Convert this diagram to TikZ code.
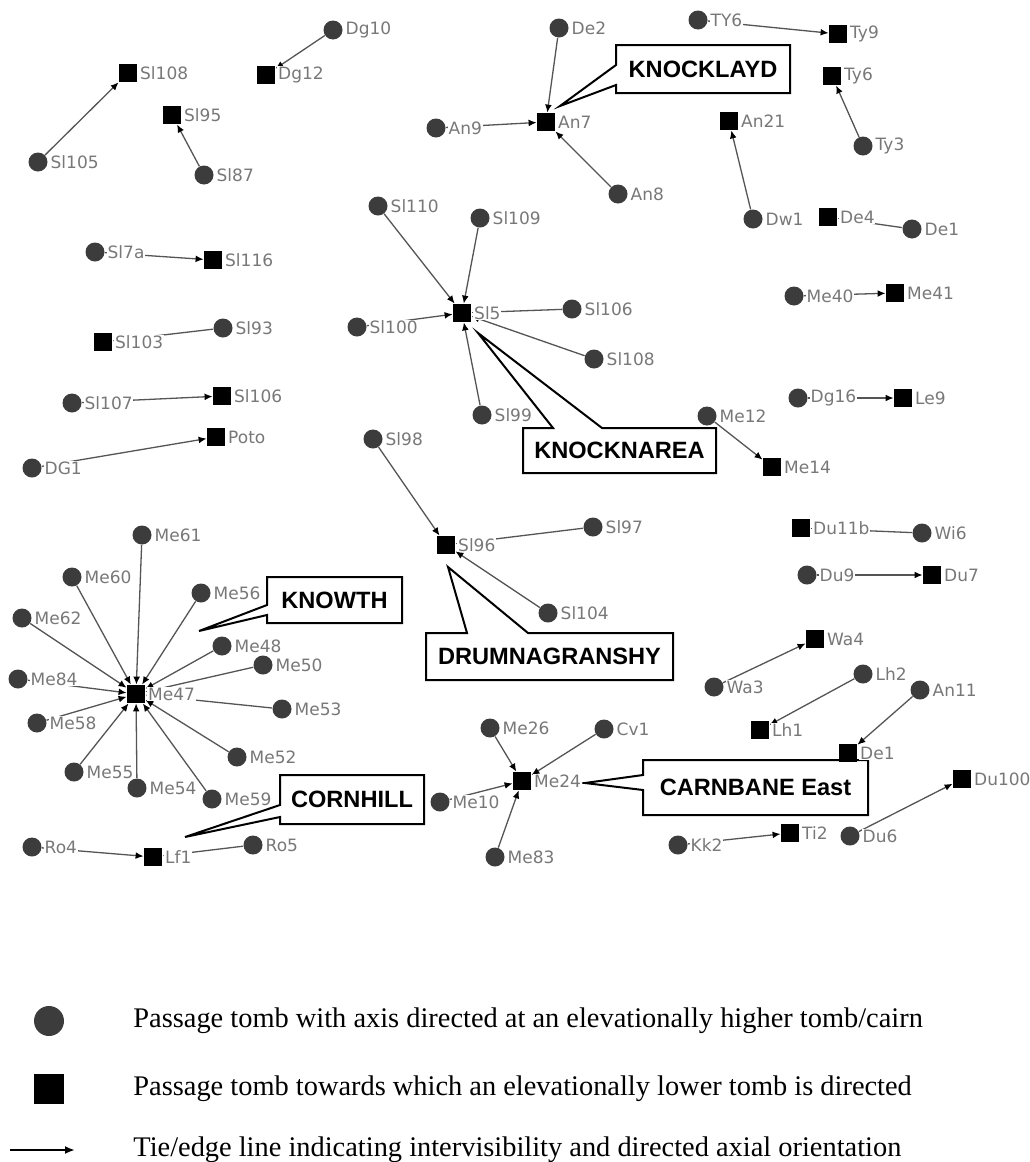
\documentclass[tikz,border=0pt]{standalone}
\usepackage{fontspec}
\setmainfont{Liberation Serif}
\newfontfamily\labfont{DejaVu Sans}
\newfontfamily\boxfont{Liberation Sans}
\usetikzlibrary{arrows.meta}
\pgfdeclarelayer{edges}
\pgfdeclarelayer{boxes}
\pgfsetlayers{edges,boxes,main}
\definecolor{tombgray}{RGB}{60,60,60}
\definecolor{labgray}{RGB}{120,120,120}
\definecolor{linegray}{RGB}{85,85,85}

\begin{document}
\begin{tikzpicture}[x=0.5pt,y=-0.5pt,
    lowtomb/.style={circle,fill=tombgray,minimum size=9.5pt,inner sep=0pt},
    hightomb/.style={rectangle,fill=black,minimum size=9pt,inner sep=0pt},
    nlab/.style={font=\labfont\fontsize{8.5}{9}\selectfont,text=labgray,fill=white,inner sep=0.4pt,label distance=0.8pt},
    lab/.style={label={[nlab]right:#1}},
    tie/.style={draw=linegray,line width=0.65pt,-{Latex[length=4pt,width=3.4pt,color=black]}},
    callout/.style={draw=black,line width=1pt,fill=white,line join=miter},
    ctext/.style={font=\boxfont\bfseries\fontsize{11.8}{13}\selectfont},
    legtext/.style={font=\fontsize{14.2}{16}\selectfont,anchor=west,inner sep=0pt},
    keyarrow/.style={draw=black,line width=1pt,-{Latex[length=5pt,width=4pt]}}]
    \useasboundingbox (0,0) rectangle (1029,1162);
    \begin{pgfonlayer}{edges}
        \fill[white] (0,0) rectangle (1029,1162);
    \end{pgfonlayer}

    \node[lowtomb,lab=Sl105] (sl105) at (38,162) {};
    \node[lowtomb,lab=Sl87] (sl87) at (204,175) {};
    \node[lowtomb,lab=Dg10] (dg10) at (333,30) {};
    \node[lowtomb,lab=De2] (de2) at (559,28) {};
    \node[lowtomb,lab=An9] (an9) at (436,128) {};
    \node[lowtomb,lab=An8] (an8) at (618,194) {};
    \node[lowtomb,lab=TY6] (ty6up) at (698,20) {};
    \node[lowtomb,lab=Ty3] (ty3) at (863,146) {};
    \node[lowtomb,lab=Dw1] (dw1) at (753,219) {};
    \node[lowtomb,lab=De1] (de1c) at (912,229) {};
    \node[lowtomb,lab=Sl7a] (sl7a) at (95,252) {};
    \node[lowtomb,lab=Sl93] (sl93) at (223,328) {};
    \node[lowtomb,lab=Sl107] (sl107) at (72,403) {};
    \node[lowtomb,lab=DG1] (dg1) at (32,468) {};
    \node[lowtomb,lab=Sl110] (sl110) at (378,206) {};
    \node[lowtomb,lab=Sl109] (sl109) at (480,218) {};
    \node[lowtomb,lab=Sl100] (sl100) at (357,327) {};
    \node[lowtomb,lab=Sl106] (sl106c) at (572,309) {};
    \node[lowtomb,lab=Sl108] (sl108c) at (594,359) {};
    \node[lowtomb,lab=Sl99] (sl99) at (482,415) {};
    \node[lowtomb,lab=Sl98] (sl98) at (373,439) {};
    \node[lowtomb,lab=Me40] (me40) at (794,296) {};
    \node[lowtomb,lab=Dg16] (dg16) at (798,398) {};
    \node[lowtomb,lab=Me12] (me12) at (707,416) {};
    \node[lowtomb,lab=Sl97] (sl97) at (593,527) {};
    \node[lowtomb,lab=Sl104] (sl104) at (548,613) {};
    \node[lowtomb,lab=Wi6] (wi6) at (922,533) {};
    \node[lowtomb,lab=Du9] (du9) at (807,575) {};
    \node[lowtomb,lab=Wa3] (wa3) at (714,687) {};
    \node[lowtomb,lab=Lh2] (lh2) at (863,674) {};
    \node[lowtomb,lab=An11] (an11) at (920,690) {};
    \node[lowtomb,lab=Me61] (me61) at (142,535) {};
    \node[lowtomb,lab=Me60] (me60) at (72,577) {};
    \node[lowtomb,lab=Me56] (me56) at (201,593) {};
    \node[lowtomb,lab=Me62] (me62) at (22,618) {};
    \node[lowtomb,lab=Me48] (me48) at (222,646) {};
    \node[lowtomb,lab=Me50] (me50) at (263,665) {};
    \node[lowtomb,lab=Me84] (me84) at (18,679) {};
    \node[lowtomb,lab=Me53] (me53) at (282,709) {};
    \node[lowtomb,lab=Me58] (me58) at (37,723) {};
    \node[lowtomb,lab=Me55] (me55) at (74,772) {};
    \node[lowtomb,lab=Me54] (me54) at (137,788) {};
    \node[lowtomb,lab=Me52] (me52) at (237,757) {};
    \node[lowtomb,lab=Me59] (me59) at (212,799) {};
    \node[lowtomb,lab=Ro4] (ro4) at (32,847) {};
    \node[lowtomb,lab=Ro5] (ro5) at (253,845) {};
    \node[lowtomb,lab=Me26] (me26) at (490,728) {};
    \node[lowtomb,lab=Cv1] (cv1) at (604,729) {};
    \node[lowtomb,lab=Me10] (me10) at (440,802) {};
    \node[lowtomb,lab=Me83] (me83) at (495,857) {};
    \node[lowtomb,lab=Kk2] (kk2) at (678,845) {};
    \node[lowtomb,lab=Du6] (du6) at (850,836) {};

    \node[hightomb,lab=Sl108] (sl108s) at (128,73) {};
    \node[hightomb,lab=Sl95] (sl95) at (172,115) {};
    \node[hightomb,lab=Dg12] (dg12) at (266,75) {};
    \node[hightomb,lab=An7] (an7) at (546,122) {};
    \node[hightomb,lab=Ty9] (ty9) at (838,34) {};
    \node[hightomb,lab=Ty6] (ty6) at (832,76) {};
    \node[hightomb,lab=An21] (an21) at (729,121) {};
    \node[hightomb,lab=De4] (de4) at (828,217) {};
    \node[hightomb,lab=Sl116] (sl116) at (213,260) {};
    \node[hightomb,lab=Sl103] (sl103) at (103,342) {};
    \node[hightomb,lab=Sl106] (sl106s) at (222,396) {};
    \node[hightomb,lab=Poto] (poto) at (216,437) {};
    \node[hightomb,lab=Sl5] (sl5) at (462,313) {};
    \node[hightomb,lab=Me41] (me41) at (895,293) {};
    \node[hightomb,lab=Le9] (le9) at (903,398) {};
    \node[hightomb,lab=Me14] (me14) at (772,467) {};
    \node[hightomb,lab=Sl96] (sl96) at (446,545) {};
    \node[hightomb,lab=Du11b] (du11b) at (801,528) {};
    \node[hightomb,lab=Du7] (du7) at (932,575) {};
    \node[hightomb,lab=Wa4] (wa4) at (815,639) {};
    \node[hightomb,lab=Lh1] (lh1) at (760,730) {};
    \node[hightomb,lab=De1] (de1s) at (848,753) {};
    \node[hightomb,lab=Me47] (me47) at (136,694) {};
    \node[hightomb,lab=Lf1] (lf1) at (153,857) {};
    \node[hightomb,lab=Me24] (me24) at (522,781) {};
    \node[hightomb,lab=Ti2] (ti2) at (790,833) {};
    \node[hightomb,lab=Du100] (du100) at (962,779) {};

    \begin{pgfonlayer}{edges}
        \draw[tie] (sl105) -- (sl108s);
        \draw[tie] (sl87) -- (sl95);
        \draw[tie] (dg10) -- (dg12);
        \draw[tie] (de2) -- (an7);
        \draw[tie] (an9) -- (an7);
        \draw[tie] (an8) -- (an7);
        \draw[tie] (ty6up) -- (ty9);
        \draw[tie] (ty3) -- (ty6);
        \draw[tie] (dw1) -- (an21);
        \draw[tie] (de1c) -- (de4);
        \draw[tie] (sl7a) -- (sl116);
        \draw[tie] (sl93) -- (sl103);
        \draw[tie] (sl107) -- (sl106s);
        \draw[tie] (dg1) -- (poto);
        \draw[tie] (sl110) -- (sl5);
        \draw[tie] (sl109) -- (sl5);
        \draw[tie] (sl100) -- (sl5);
        \draw[tie] (sl106c) -- (sl5);
        \draw[tie] (sl108c) -- (sl5);
        \draw[tie] (sl99) -- (sl5);
        \draw[tie] (me40) -- (me41);
        \draw[tie] (dg16) -- (le9);
        \draw[tie] (me12) -- (me14);
        \draw[tie] (sl98) -- (sl96);
        \draw[tie] (sl97) -- (sl96);
        \draw[tie] (sl104) -- (sl96);
        \draw[tie] (wi6) -- (du11b);
        \draw[tie] (du9) -- (du7);
        \draw[tie] (wa3) -- (wa4);
        \draw[tie] (lh2) -- (lh1);
        \draw[tie] (an11) -- (de1s);
        \draw[tie] (me61) -- (me47);
        \draw[tie] (me60) -- (me47);
        \draw[tie] (me56) -- (me47);
        \draw[tie] (me62) -- (me47);
        \draw[tie] (me48) -- (me47);
        \draw[tie] (me50) -- (me47);
        \draw[tie] (me84) -- (me47);
        \draw[tie] (me53) -- (me47);
        \draw[tie] (me58) -- (me47);
        \draw[tie] (me55) -- (me47);
        \draw[tie] (me54) -- (me47);
        \draw[tie] (me52) -- (me47);
        \draw[tie] (me59) -- (me47);
        \draw[tie] (ro4) -- (lf1);
        \draw[tie] (ro5) -- (lf1);
        \draw[tie] (me26) -- (me24);
        \draw[tie] (cv1) -- (me24);
        \draw[tie] (me10) -- (me24);
        \draw[tie] (me83) -- (me24);
        \draw[tie] (kk2) -- (ti2);
        \draw[tie] (du6) -- (du100);
    \end{pgfonlayer}

    \node[ctext] (knocklayd) at (703,69) {KNOCKLAYD};
    \node[ctext] (knocknarea) at (619.5,450.5) {KNOCKNAREA};
    \node[ctext] (knowth) at (334.5,600) {KNOWTH};
    \node[ctext] (drumnagranshy) at (549.5,656.5) {DRUMNAGRANSHY};
    \node[ctext] (cornhill) at (352,799.5) {CORNHILL};
    \node[ctext] (carnbane) at (755.5,787.5) {CARNBANE East};
    \begin{pgfonlayer}{boxes}
        \filldraw[callout] (616,45) -- (790,45) -- (790,93) -- (616,93) -- (616,85) -- (560,106) -- (616,65) -- cycle;
        \filldraw[callout] (523,428) -- (553,428) -- (478,333) -- (602,428) -- (716,428) -- (716,473) -- (523,473) -- cycle;
        \filldraw[callout] (267,577) -- (402,577) -- (402,623) -- (267,623) -- (267,615) -- (199,631) -- (267,605) -- cycle;
        \filldraw[callout] (426,633) -- (467,633) -- (448,567) -- (528,633) -- (673,633) -- (673,680) -- (426,680) -- cycle;
        \filldraw[callout] (280,775) -- (424,775) -- (424,824) -- (280,824) -- (280,817) -- (185,837) -- (280,805) -- cycle;
        \filldraw[callout] (643,760) -- (868,760) -- (868,815) -- (643,815) -- (643,790) -- (585,783) -- (643,775) -- cycle;
    \end{pgfonlayer}

    \node[lowtomb,minimum size=15pt] (keylow) at (49,1021) {};
    \node[hightomb,minimum size=15pt] (keyhigh) at (49,1089) {};
    \coordinate (keyfrom) at (10,1150);
    \coordinate (keyto) at (75,1150);
    \draw[keyarrow] (keyfrom) -- (keyto);
    \node[legtext] (keylowtext) at (133,1021) {Passage tomb with axis directed at an elevationally higher tomb/cairn};
    \node[legtext] (keyhightext) at (133,1089) {Passage tomb towards which an elevationally lower tomb is directed};
    \node[legtext] (keytietext) at (133,1150) {Tie/edge line indicating intervisibility and directed axial orientation};
\end{tikzpicture}
\end{document}
